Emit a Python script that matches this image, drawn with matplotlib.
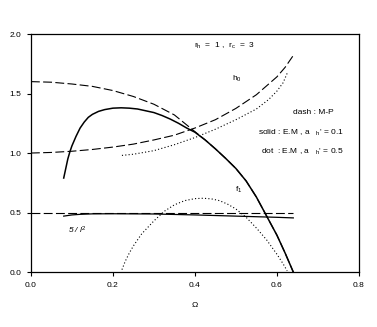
import matplotlib
matplotlib.use('Agg')
import matplotlib.pyplot as plt

plt.rcParams['font.family'] = ['Liberation Sans', 'DejaVu Sans']
plt.rcParams['mathtext.fontset'] = 'custom'
plt.rcParams['mathtext.rm'] = 'Liberation Sans'
plt.rcParams['mathtext.it'] = 'Liberation Sans:italic'

# f1, M-P (dashed)
om_f1_mp = [0.0, 0.05, 0.1, 0.15, 0.2, 0.25, 0.3, 0.35, 0.4, 0.425, 0.45, 0.475, 0.5,
            0.525, 0.55, 0.575, 0.6, 0.62, 0.64]
f1_mp = [1.6, 1.595, 1.58, 1.56, 1.525, 1.475, 1.41, 1.32, 1.18, 1.11, 1.035, 0.955, 0.87,
         0.765, 0.63, 0.47, 0.31, 0.16, 0.0]

# f1, E.M a_h'=0.1 (solid)
om_f1_s = [0.08, 0.085, 0.09, 0.095, 0.1, 0.11, 0.12, 0.13, 0.14, 0.15, 0.165,
           0.18, 0.2, 0.22, 0.24, 0.26, 0.28, 0.3, 0.32, 0.34, 0.36, 0.38, 0.4,
           0.425, 0.45, 0.475, 0.5, 0.525, 0.55, 0.575, 0.6, 0.62, 0.64]
f1_s = [0.79, 0.87, 0.95, 1.01, 1.06, 1.14, 1.21, 1.26, 1.30, 1.325, 1.35,
        1.365, 1.377, 1.38, 1.377, 1.37, 1.355, 1.34, 1.315, 1.285, 1.25, 1.21, 1.175,
        1.11, 1.035, 0.955, 0.87, 0.765, 0.63, 0.47, 0.31, 0.16, 0.0]

# f1, E.M a_h'=0.5 (dotted)
om_f1_d = [0.222, 0.23, 0.24, 0.25, 0.27, 0.3, 0.325, 0.35, 0.375, 0.4, 0.42,
           0.44, 0.46, 0.48, 0.5, 0.525, 0.55, 0.575, 0.6, 0.615, 0.625]
f1_d = [0.02, 0.09, 0.16, 0.22, 0.32, 0.43, 0.51, 0.565, 0.6, 0.617, 0.62,
        0.615, 0.6, 0.57, 0.53, 0.46, 0.37, 0.27, 0.15, 0.07, 0.01]

# h0, M-P (dashed)
om_h0_mp = [0.0, 0.05, 0.1, 0.15, 0.2, 0.25, 0.3, 0.35, 0.4, 0.45, 0.5,
            0.55, 0.6, 0.62, 0.64]
h0_mp = [1.0, 1.005, 1.015, 1.03, 1.05, 1.075, 1.11, 1.15, 1.21, 1.28, 1.375,
         1.49, 1.64, 1.72, 1.82]

# h0, E.M a_h'=0.5 (dotted)
om_h0_d = [0.222, 0.25, 0.3, 0.35, 0.4, 0.45, 0.5, 0.55, 0.58, 0.6, 0.615, 0.625]
h0_d = [0.98, 0.99, 1.02, 1.07, 1.13, 1.20, 1.28, 1.37, 1.45, 1.52, 1.59, 1.67]

# 5/l^2
om_l_mp = [0.0, 0.64]
l_mp = [0.5, 0.5]
om_l_s = [0.08, 0.1, 0.12, 0.15, 0.2, 0.3, 0.4, 0.5, 0.6, 0.64]
l_s = [0.47, 0.48, 0.485, 0.489, 0.49, 0.488, 0.48, 0.47, 0.46, 0.455]

fig = plt.figure(figsize=(3.77, 3.27), dpi=100)
ax = fig.add_axes([0.082, 0.168, 0.870, 0.728])

dash = (0, (8, 3))
ax.plot(om_f1_mp, f1_mp, color='black', lw=0.8, linestyle=dash)
ax.plot(om_f1_s, f1_s, color='black', lw=1.1)
ax.plot(om_f1_d, f1_d, color='black', lw=0.8, linestyle=(0, (1, 2)))
ax.plot(om_h0_mp, h0_mp, color='black', lw=0.8, linestyle=dash)
ax.plot(om_h0_d, h0_d, color='black', lw=0.8, linestyle=(0, (1, 2)))
ax.plot(om_l_mp, l_mp, color='black', lw=0.8, linestyle=dash)
ax.plot(om_l_s, l_s, color='black', lw=0.9)

ax.set_xlim(0, 0.8)
ax.set_ylim(0, 2.0)
ax.set_xticks([0.0, 0.2, 0.4, 0.6, 0.8])
ax.set_yticks([0.0, 0.5, 1.0, 1.5, 2.0])
ax.set_xticklabels(['0.0', '0.2', '0.4', '0.6', '0.8'])
ax.set_yticklabels(['0.0', '0.5', '1.0', '1.5', '2.0'])
ax.tick_params(direction='out', length=3, width=0.8, labelsize=6, pad=4)
for s in ax.spines.values():
    s.set_linewidth(0.9)
ax.set_xlabel(r'$\Omega$', fontsize=6, labelpad=8)

fs = 6
ax.text(0.473, 1.90, r'r$_{\rm h}$  =  1 ,  r$_{\rm c}$  =  3', fontsize=fs, ha='center', va='center')
ax.text(0.49, 1.62, r'h$_{\rm 0}$', fontsize=fs, ha='left', va='center')
ax.text(0.69, 1.342, 'dash : M-P', fontsize=fs, ha='center', va='center')
ax.text(0.659, 1.173, r"solid : E.M , a   $_{\rm h}$' = 0.1", fontsize=fs, ha='center', va='center')
ax.text(0.661, 1.013, r"dot  : E.M , a   $_{\rm h}$' = 0.5", fontsize=fs, ha='center', va='center')
ax.text(0.498, 0.69, r'f$_{\rm 1}$', fontsize=fs, ha='left', va='center')
ax.text(0.09, 0.354, r'5 / $\it{l}$$^{\rm 2}$', fontsize=fs, ha='left', va='center', style='italic')

fig.savefig('out.png', dpi=100)
